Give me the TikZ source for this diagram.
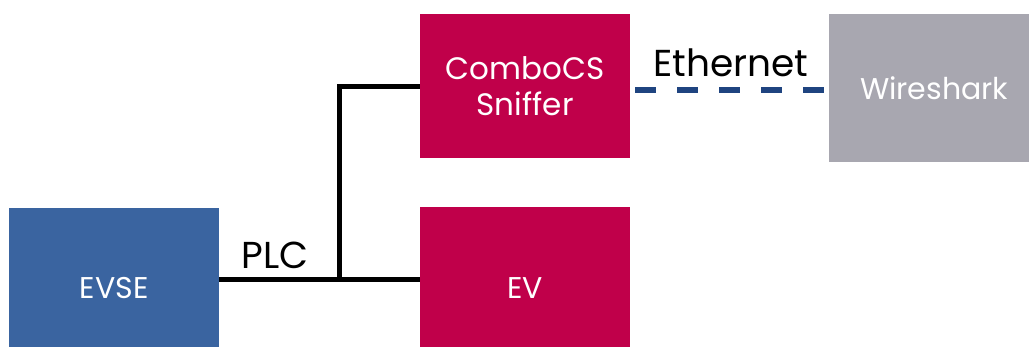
\documentclass[tikz,border=0pt]{standalone}
\usepackage{fontspec}
\setmainfont{Poppins}
\definecolor{evseblue}{HTML}{3A64A0}
\definecolor{crimson}{HTML}{C0004A}
\definecolor{wsgray}{HTML}{A8A7B0}
\definecolor{navy}{HTML}{1F4480}
\begin{document}
\begin{tikzpicture}[x=1pt,y=-1pt,
  blk/.style={rectangle, inner sep=0pt, text=white, font=\fontsize{30}{36}\selectfont, align=center, anchor=north west},
  wire/.style={line width=5pt, black},
  eth/.style={line width=6pt, navy, dash pattern=on 21pt off 21pt},
  lbl/.style={inner sep=0pt, font=\fontsize{37.5}{42}\selectfont}]
\useasboundingbox (0,0) rectangle (1029,347);
\clip (0,0) rectangle (1029,347);
\fill[white] (0,0) rectangle (1029,347);
\node[blk, fill=evseblue, minimum width=210pt, minimum height=160pt] (evse) at (9,208) {EVSE};
\node[blk, fill=crimson, minimum width=210pt, minimum height=144pt, font=\fontsize{31}{36}\selectfont] (cs) at (420,14) {ComboCS\\Sniffer};
\node[blk, fill=crimson, minimum width=210pt, minimum height=162pt] (ev) at (420,207) {EV};
\node[blk, fill=wsgray, minimum width=210pt, minimum height=148pt] (ws) at (829,14) {Wireshark};
\coordinate (j) at (339,280);
\coordinate (e) at (730,90);
\draw[wire] (evse.east |- j) -- (j) -- (ev.west |- j);
\draw[wire] (j) |- (cs.west);
\draw[eth] ([xshift=5pt]cs.east |- e) -- ([xshift=-5pt]ws.west |- e);
\node[lbl] (plc) at (275,255) {PLC};
\node[lbl] (ethl) at (731,63) {Ethernet};
\end{tikzpicture}
\end{document}
